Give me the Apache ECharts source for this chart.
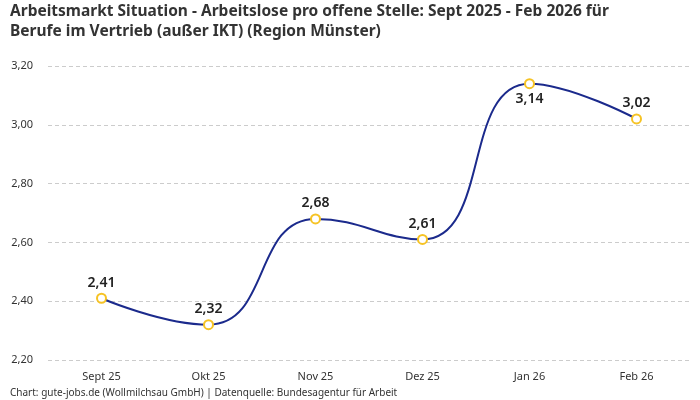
<!DOCTYPE html>
<html lang="de">
<head>
    <meta charset="UTF-8">
    <title>Arbeitsmarkt Situation</title>
    <script src="https://cdn.jsdelivr.net/npm/echarts@6/dist/echarts.min.js"></script>
    <style>
        html, body { margin: 0; padding: 0; background: #fff; }
    </style>
</head>
<body>
<div id="main" style="width: 700px;height:400px;"></div>

<script type="text/javascript">
    const months = ['Sept 25', 'Okt 25', 'Nov 25', 'Dez 25', 'Jan 26', 'Feb 26']
    const ratio = [2.41, 2.32, 2.68, 2.61, 3.14, 3.02]
    const labelBelow = ['Jan 26']

    const fmt = v => v.toFixed(2).replace('.', ',')

    const chart = echarts.init(document.getElementById('main'))

    const option = {
        animation: false,
        textStyle: { fontFamily: 'Noto Sans' },
        title: [{
            text: 'Arbeitsmarkt Situation - Arbeitslose pro offene Stelle: Sept 2025 - Feb 2026 für\nBerufe im Vertrieb (außer IKT) (Region Münster)',
            left: 5,
            top: -3,
            textStyle: { fontSize: 15.5, fontWeight: 'bold', color: '#333', lineHeight: 20 }
        }, {
            text: 'Chart: gute-jobs.de (Wollmilchsau GmbH) | Datenquelle: Bundesagentur für Arbeit',
            left: 5,
            top: 383,
            textStyle: { fontSize: 10, fontWeight: 'normal', color: '#333' }
        }],
        grid: { left: 48, right: 10, top: 66, bottom: 40 },
        xAxis: {
            type: 'category',
            data: months,
            axisLine: { show: false },
            axisTick: { show: false },
            axisLabel: { color: '#333', fontSize: 11, margin: 11 }
        },
        yAxis: {
            type: 'value',
            min: 2.2,
            max: 3.2,
            interval: 0.2,
            axisLabel: {
                color: '#333', fontSize: 11, margin: 15,
                formatter: v => fmt(v)
            },
            splitLine: { lineStyle: { type: [4, 3], color: '#ccc' } }
        },
        series: [{
            type: 'line',
            data: ratio.map((v, i) => ({
                value: v,
                label: { position: labelBelow.includes(months[i]) ? 'bottom' : 'top' }
            })),
            smooth: 0.5,
            symbol: 'circle',
            symbolSize: 9,
            lineStyle: { color: '#1b2a8c', width: 2 },
            itemStyle: { color: '#fff', borderColor: '#f6c324', borderWidth: 2 },
            label: {
                show: true,
                distance: 3,
                color: '#222',
                fontSize: 14,
                fontWeight: 600,
                formatter: p => fmt(p.value)
            }
        }]
    }

    chart.setOption(option)
</script>
</body>
</html>
